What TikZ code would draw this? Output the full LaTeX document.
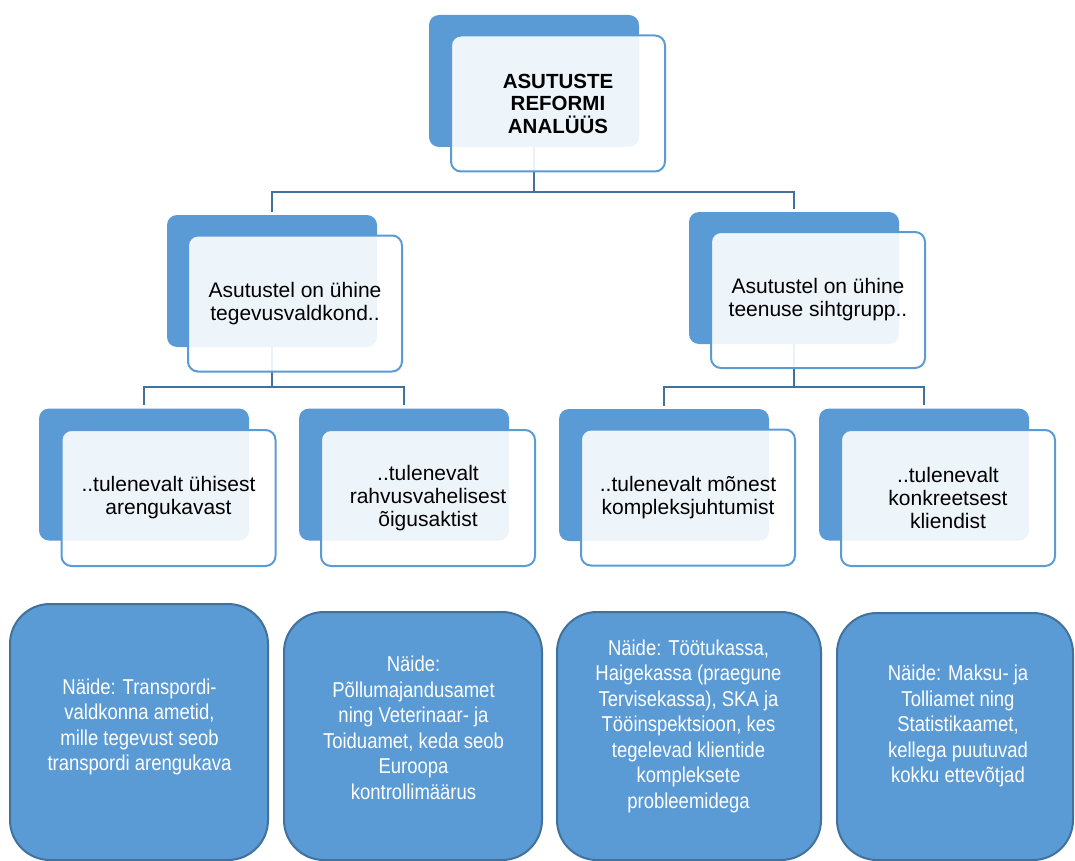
\documentclass[tikz,border=0pt]{standalone}
\usepackage{fontspec}
\setmainfont{Liberation Sans}
\newfontfamily\condfont[FakeStretch=0.86]{Liberation Sans}
\usetikzlibrary{calc}
\definecolor{accent}{HTML}{5B9BD5}
\definecolor{darkline}{HTML}{41719C}
\begin{document}
\begin{tikzpicture}[x=1pt,y=-1pt,
 backbox/.style={draw=none, fill=accent, rounded corners=10pt, minimum width=210pt, minimum height=132pt, inner sep=0pt},
 frontbox/.style={draw=accent, line width=2pt, fill=white, fill opacity=0.9, text opacity=1, rounded corners=10pt, minimum width=214pt, minimum height=136pt, inner sep=0pt, align=center, font=\fontsize{21}{23}\selectfont},
 conn/.style={draw=darkline, line width=2.5pt},
 example/.style={draw=darkline, line width=2pt, fill=accent, rounded corners=40pt, inner sep=0pt},
 extext/.style={text=white, align=center, font=\condfont\fontsize{21.5}{25.5}\selectfont, inner sep=0pt}]
\useasboundingbox (0,0) rectangle (1075,861);

% back boxes
\node[backbox] (b0) at (534,81) {};
\node[backbox] (b1) at (272,281) {};
\node[backbox] (b2) at (794,278) {};
\node[backbox] (b3) at (144,474.5) {};
\node[backbox] (b4) at (404,474.5) {};
\node[backbox] (b5) at (664,475) {};
\node[backbox] (b6) at (924,474.5) {};

% connectors
\coordinate (j0) at (534,192);
\coordinate (j1) at (272,387);
\coordinate (j2) at (794,387);
\draw[conn] (b0.south) -- (j0) -| ($(b1.north)+(0,-3)$);
\draw[conn] (j0) -| ($(b2.north)+(0,-3)$);
\draw[conn] (b1.south) -- (j1) -| ($(b3.north)+(0,-3)$);
\draw[conn] (j1) -| ($(b4.north)+(0,-3)$);
\draw[conn] (b2.south) -- (j2) -| ($(b5.north)+(0,-3)$);
\draw[conn] (j2) -| ($(b6.north)+(0,-3)$);

% front boxes
\node[frontbox, font=\bfseries\fontsize{20.5}{22.5}\selectfont] (f0) at (558,103.5) {ASUTUSTE\\REFORMI\\ANALÜÜS};
\node[frontbox] (f1) at (295,303.5) {Asutustel on ühine\\tegevusvaldkond..};
\node[frontbox] (f2) at (818,300) {Asutustel on ühine\\teenuse sihtgrupp..};
\node[frontbox] (f3) at (168.5,498) {..tulenevalt ühisest\\arengukavast};
\node[frontbox] (f4) at (428,498) {..tulenevalt\\rahvusvahelisest\\õigusaktist};
\node[frontbox] (f5) at (688,497.5) {..tulenevalt mõnest\\kompleksjuhtumist};
\node[frontbox] (f6) at (948,498) {..tulenevalt\\konkreetsest\\kliendist};

% example boxes
\node[example, minimum width=258pt, minimum height=256pt] (e1) at (139,732) {};
\node[example, minimum width=258pt, minimum height=248pt] (e2) at (413,736) {};
\node[example, minimum width=264pt, minimum height=248pt] (e3) at (689,736) {};
\node[example, minimum width=236pt, minimum height=247pt] (e4) at (955,736.5) {};

\node[extext] (t1) at (139.5,727) {Näide: Transpordi-\\valdkonna ametid,\\mille tegevust seob\\transpordi arengukava};
\node[extext] (t2) at (413.5,728) {Näide:\\Põllumajandusamet\\ning Veterinaar- ja\\Toiduamet, keda seob\\Euroopa\\kontrollimäärus};
\node[extext] (t3) at (688.5,726) {Näide: Töötukassa,\\Haigekassa (praegune\\Tervisekassa), SKA ja\\Tööinspektsioon, kes\\tegelevad klientide\\kompleksete\\probleemidega};
\node[extext] (t4) at (958,726) {Näide: Maksu- ja\\Tolliamet ning\\Statistikaamet,\\kellega puutuvad\\kokku ettevõtjad};
\end{tikzpicture}
\end{document}
